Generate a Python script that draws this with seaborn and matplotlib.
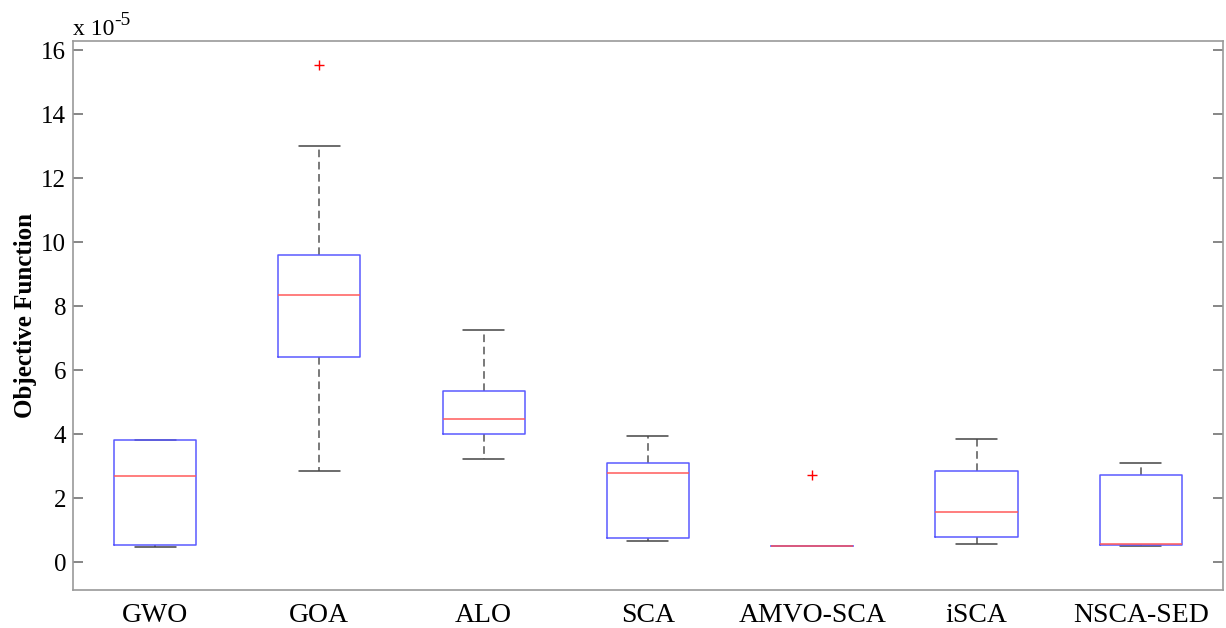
import numpy as np
import pandas as pd
import matplotlib
matplotlib.use("Agg")
import matplotlib.pyplot as plt
import seaborn as sns

# Box summary (units of 1e-5)
algorithms = ["GWO", "GOA", "ALO", "SCA", "AMVO-SCA", "iSCA", "NSCA-SED"]
whisker_low = [0.47, 2.84, 3.22, 0.66, 0.50, 0.56, 0.50]
q1 = [0.53, 6.40, 4.00, 0.75, 0.50, 0.78, 0.53]
median = [2.69, 8.34, 4.47, 2.78, 0.50, 1.56, 0.56]
q3 = [3.81, 9.59, 5.34, 3.09, 0.50, 2.84, 2.72]
whisker_high = [3.81, 13.00, 7.25, 3.94, 0.50, 3.85, 3.09]
outliers = [[], [15.53], [], [], [2.72], [], []]

# Build 9-point samples whose quartiles reproduce the boxes above
rows = []
for i, name in enumerate(algorithms):
    vals = [whisker_low[i], q1[i], q1[i], median[i], median[i], median[i],
            q3[i], q3[i], whisker_high[i]]
    for k, o in enumerate(outliers[i]):
        vals[-1 - k] = o
        if k == 0:
            vals[-2] = max(whisker_high[i], q3[i])
    for v in vals:
        rows.append({"Algorithm": name, "Value": v})
df = pd.DataFrame(rows)

sns.set_theme(style="white", rc={"text.color": "black", "axes.labelcolor": "black",
                                 "xtick.color": "black", "ytick.color": "black"})
plt.rcParams["font.family"] = ["Liberation Serif", "DejaVu Serif"]

fig = plt.figure(figsize=(12.26, 6.28), dpi=100)
ax = fig.add_axes([0.0595, 0.0605, 0.938, 0.874])

sns.boxplot(data=df, x="Algorithm", y="Value", order=algorithms, ax=ax,
            fill=False, width=0.5, whis=1.5, linewidth=1.1,
            boxprops={"color": "#5a5aff", "zorder": 3},
            medianprops={"color": "#ff5a5a", "zorder": 4},
            whiskerprops={"color": "#555555", "linestyle": (0, (5, 3)), "zorder": 2},
            capprops={"color": "#444444", "zorder": 2},
            flierprops={"marker": "+", "markeredgecolor": "red",
                        "markersize": 7, "markeredgewidth": 1.0})

ax.set_xlim(-0.5, 6.5)
ax.set_ylim(-0.875, 16.28)
ax.set_yticks(np.arange(0, 17, 2))
ax.set_xlabel("")
ax.set_ylabel("Objective Function", fontsize=18, fontweight="bold", labelpad=3)
ax.tick_params(axis="y", labelsize=18, direction="in", length=7, color="#777777",
               labelcolor="black", right=True, left=True, pad=5)
ax.tick_params(axis="x", labelsize=20, length=0, pad=9, labelcolor="black")
for s in ax.spines.values():
    s.set_color("#9a9a9a")
    s.set_linewidth(1.2)

# MATLAB-style exponent label above the y axis
base = ax.text(0.0, 1.011, "x 10", transform=ax.transAxes, fontsize=17,
               ha="left", va="baseline", color="black")
ax.annotate("-5", xy=(1.0, 0.95), xycoords=base, fontsize=14,
            ha="left", va="center", color="black")

fig.savefig("out.png", dpi=100)
